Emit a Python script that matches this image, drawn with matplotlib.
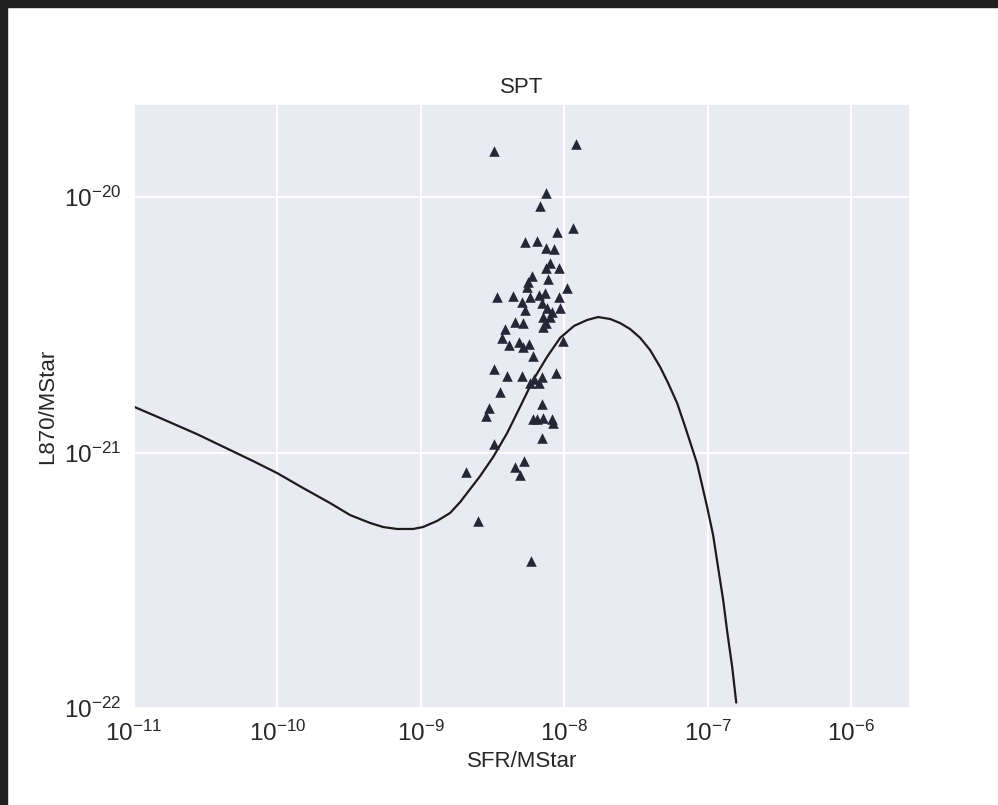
import matplotlib
matplotlib.use("Agg")
import matplotlib.pyplot as plt
import seaborn as sns
from matplotlib.patches import Rectangle

sns.set_theme(style="darkgrid")
plt.rcParams['font.family'] = ['Liberation Sans', 'DejaVu Sans']

# model curve (SFR/MStar, L870/MStar)
curve_x = [1.00e-11, 1.59e-11, 2.75e-11, 4.67e-11, 6.76e-11, 9.94e-11, 1.51e-10,
           2.33e-10, 3.21e-10, 4.42e-10, 5.45e-10, 6.82e-10, 8.82e-10, 1.036e-9,
           1.30e-9, 1.60e-9, 1.88e-9, 2.59e-9, 3.19e-9, 3.99e-9, 4.92e-9, 6.06e-9,
           7.59e-9, 9.35e-9, 1.17e-8, 1.44e-8, 1.72e-8, 2.09e-8, 2.45e-8, 2.88e-8,
           3.38e-8, 3.96e-8, 4.66e-8, 5.29e-8, 6.12e-8, 6.96e-8, 7.78e-8, 8.44e-8,
           9.90e-8, 1.09e-7, 1.18e-7, 1.28e-7, 1.37e-7, 1.48e-7, 1.58e-7]
curve_y = [1.51e-21, 1.35e-21, 1.18e-21, 1.023e-21, 9.26e-22, 8.31e-22, 7.26e-22,
           6.34e-22, 5.69e-22, 5.30e-22, 5.11e-22, 5.02e-22, 5.02e-22, 5.11e-22,
           5.40e-22, 5.80e-22, 6.40e-22, 8.09e-22, 9.60e-22, 1.19e-21, 1.51e-21, 1.92e-21,
           2.37e-21, 2.81e-21, 3.13e-21, 3.30e-21, 3.39e-21, 3.33e-21, 3.21e-21, 3.04e-21,
           2.81e-21, 2.52e-21, 2.16e-21, 1.87e-21, 1.56e-21, 1.26e-21, 1.04e-21, 9.02e-22,
           6.12e-22, 4.75e-22, 3.56e-22, 2.65e-22, 1.97e-22, 1.45e-22, 1.05e-22]

# SPT sources
spt_x = [3.24e-9, 1.21e-8, 7.46e-9, 6.78e-9, 1.15e-8, 8.91e-9, 5.33e-9, 6.46e-9,
         7.46e-9, 8.49e-9, 7.96e-9, 7.46e-9, 9.20e-9, 5.96e-9, 7.71e-9, 5.60e-9,
         5.51e-9, 1.047e-8, 3.40e-9, 4.40e-9, 5.08e-9, 5.78e-9, 6.67e-9, 7.35e-9,
         9.20e-9, 5.33e-9, 7.00e-9, 7.59e-9, 8.22e-9, 9.35e-9, 7.11e-9, 7.96e-9,
         4.54e-9, 5.16e-9, 7.46e-9, 7.11e-9, 3.87e-9, 3.69e-9, 4.12e-9, 4.84e-9,
         5.16e-9, 5.69e-9, 6.06e-9, 9.81e-9, 3.24e-9, 3.99e-9, 5.08e-9, 5.78e-9,
         6.16e-9, 6.67e-9, 7.00e-9, 8.77e-9, 3.57e-9, 7.00e-9, 2.99e-9, 2.85e-9,
         6.06e-9, 6.46e-9, 7.11e-9, 8.22e-9, 8.35e-9, 7.00e-9, 3.24e-9, 5.25e-9,
         4.54e-9, 4.92e-9, 2.07e-9, 2.51e-9, 5.87e-9]
spt_y = [1.51e-20, 1.61e-20, 1.04e-20, 9.22e-21, 7.56e-21, 7.30e-21, 6.67e-21, 6.73e-21,
         6.31e-21, 6.26e-21, 5.52e-21, 5.27e-21, 5.27e-21, 4.91e-21, 4.78e-21, 4.65e-21,
         4.45e-21, 4.41e-21, 4.06e-21, 4.10e-21, 3.88e-21, 4.06e-21, 4.13e-21, 4.21e-21,
         4.06e-21, 3.61e-21, 3.85e-21, 3.68e-21, 3.55e-21, 3.68e-21, 3.39e-21, 3.39e-21,
         3.24e-21, 3.21e-21, 3.21e-21, 3.10e-21, 3.04e-21, 2.81e-21, 2.64e-21, 2.71e-21,
         2.59e-21, 2.66e-21, 2.39e-21, 2.73e-21, 2.12e-21, 1.99e-21, 1.99e-21, 1.87e-21,
         1.94e-21, 1.87e-21, 1.97e-21, 2.05e-21, 1.73e-21, 1.55e-21, 1.49e-21, 1.39e-21,
         1.35e-21, 1.35e-21, 1.36e-21, 1.35e-21, 1.30e-21, 1.14e-21, 1.08e-21, 9.26e-22,
         8.77e-22, 8.17e-22, 8.39e-22, 5.39e-22, 3.76e-22]

title = "SPT"
xlabel = "SFR/MStar"
ylabel = "L870/MStar"

W, H = 998, 805
fig = plt.figure(figsize=(W / 100, H / 100), dpi=100)
fig.patch.set_facecolor('white')

ax = fig.add_axes([134 / W, 1 - 708 / H, (910 - 134) / W, (708 - 104) / H])
ax.plot(curve_x, curve_y, color='#1c1c1c', lw=1.6)
ax.scatter(spt_x, spt_y, marker='^', s=58, color='#262637', linewidths=0, zorder=3)
ax.set_xscale('log')
ax.set_yscale('log')
ax.set_xlim(1e-11, 10 ** -5.59)
ax.set_ylim(1e-22, 10 ** -19.636)
ax.set_title(title, fontsize=16, color='#262626', pad=8)
ax.set_xlabel(xlabel, fontsize=16, color='#262626', labelpad=3)
ax.set_ylabel(ylabel, fontsize=16, color='#262626', labelpad=4)
ax.tick_params(axis='both', labelsize=17.5, colors='#262626')
ax.minorticks_off()
ax.grid(True, which='major', color='white', lw=1.4)

# dark frame of the screenshot (top and left)
fig.patches.append(Rectangle((0, 1 - 7 / H), 1, 7 / H, transform=fig.transFigure,
                             color='#202020', zorder=10))
fig.patches.append(Rectangle((0, 0), 7 / W, 1, transform=fig.transFigure,
                             color='#202020', zorder=10))

fig.savefig('out.png', dpi=100)
